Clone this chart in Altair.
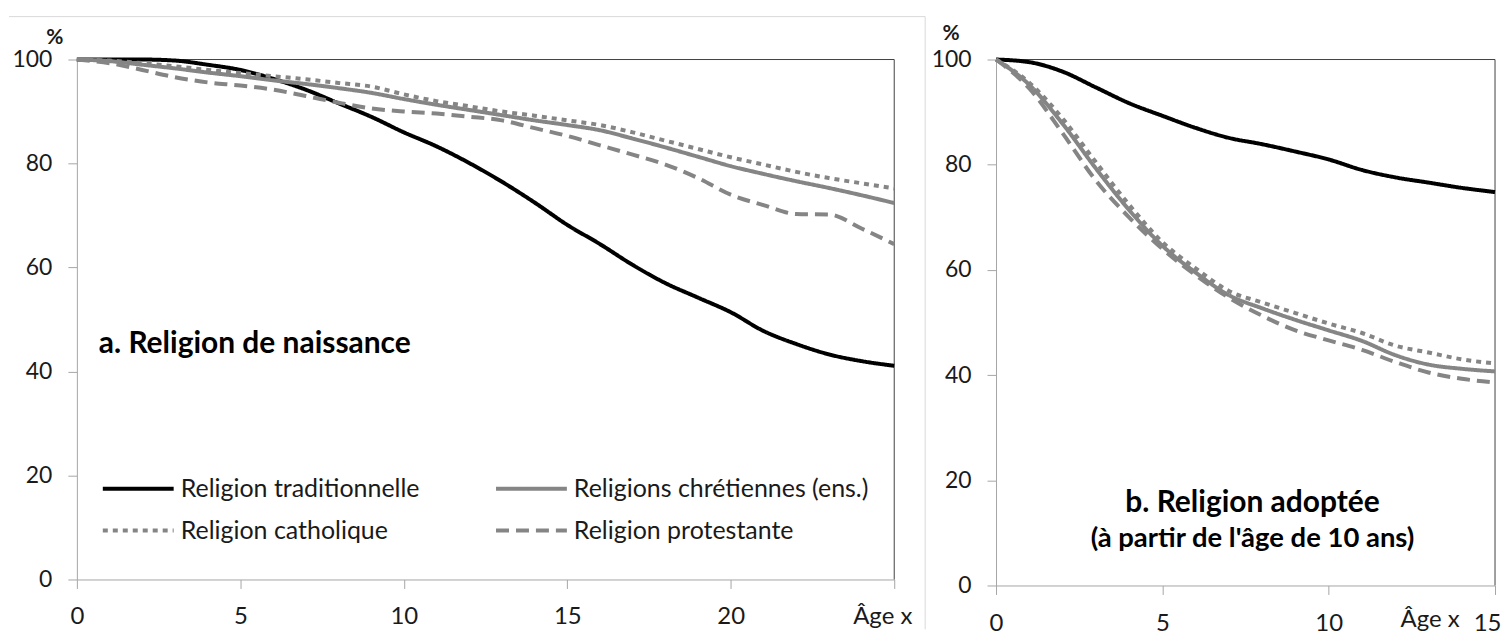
import altair as alt
import pandas as pd

# ---------------- data ----------------
series = ["Religion traditionnelle", "Religions chrétiennes (ens.)",
          "Religion catholique", "Religion protestante"]

# a. Religion de naissance (age 0..25)
ages_a = list(range(26))
trad_a = [100, 100, 100, 99.8, 99.0, 98.0, 96.3, 94.2, 91.6, 89.0, 86.0, 83.3, 80.1,
          76.5, 72.5, 68.2, 64.5, 60.5, 57.0, 54.2, 51.4, 47.8, 45.3, 43.3, 42.0, 41.1]
chret_a = [100, 99.7, 99.0, 98.3, 97.5, 96.8, 96.0, 95.3, 94.5, 93.6, 92.4, 91.3, 90.3,
           89.3, 88.3, 87.4, 86.4, 84.8, 83.1, 81.3, 79.5, 78.0, 76.6, 75.3, 73.9, 72.4]
cath_a = [100, 99.8, 99.3, 98.7, 98.0, 97.4, 96.8, 96.2, 95.5, 94.8, 93.3, 92.0, 91.0,
          90.0, 89.2, 88.3, 87.4, 86.0, 84.4, 82.8, 81.2, 79.8, 78.4, 77.2, 76.2, 75.2]
prot_a = [100, 99.3, 98.0, 96.6, 95.6, 95.0, 94.2, 93.0, 91.7, 90.6, 90.0, 89.6, 89.0,
          88.3, 86.8, 85.3, 83.5, 81.7, 79.8, 77.2, 74.0, 72.0, 70.3, 70.2, 67.5, 64.5]

# b. Religion adoptée (age 0..15)
ages_b = list(range(16))
trad_b = [100, 99.5, 97.7, 94.7, 91.7, 89.3, 87.0, 85.1, 83.9, 82.5, 81.0, 79.0, 77.6,
          76.6, 75.6, 74.8]
chret_b = [100, 95.2, 87.8, 79.3, 71.4, 64.6, 59.5, 55.2, 52.7, 50.5, 48.5, 46.5, 43.8,
           42.0, 41.2, 40.7]
cath_b = [100, 95.6, 88.8, 80.5, 72.4, 65.3, 60.3, 56.0, 53.8, 51.8, 49.8, 48.0, 45.6,
          44.3, 43.0, 42.2]
prot_b = [100, 94.5, 86.0, 77.0, 70.0, 64.0, 59.0, 54.7, 51.3, 48.5, 46.6, 44.8, 42.5,
          40.5, 39.3, 38.6]

y_ticks = [0, 20, 40, 60, 80, 100]
x_ticks_a = [0, 5, 10, 15, 20, 25]
x_ticks_b = [0, 5, 10, 15]


def long_df(ages, cols):
    rows = []
    for name, vals in zip(series, cols):
        for a, v in zip(ages, vals):
            rows.append({"age": a, "pct": v, "serie": name})
    return pd.DataFrame(rows)


df_a = long_df(ages_a, [trad_a, chret_a, cath_a, prot_a])
df_b = long_df(ages_b, [trad_b, chret_b, cath_b, prot_b])

# ---------------- styles ----------------
FONT = "Lato"
TXT = "#1a1a1a"
AXC = "#a6a6a6"
BORDER = "#404040"
BOX = "#d9d9d9"
GRAY = "#858585"

color_scale = alt.Scale(domain=series, range=["#000000", GRAY, GRAY, GRAY])
dash_scale = alt.Scale(domain=series, range=[[1, 0], [1, 0], [5, 5], [13, 7]])

W1, H1 = 819, 521
W2, H2 = 500, 527


def y_enc():
    return alt.Y("pct:Q", scale=alt.Scale(domain=[0, 100], nice=False),
                 axis=alt.Axis(values=y_ticks, title=None, grid=False,
                               domainColor=AXC, tickColor=AXC, tickSize=9,
                               labelFont=FONT, labelFontSize=23, labelColor=TXT,
                               labelPadding=16, labelFlush=False))


def lines(df, xenc):
    return alt.Chart(df).mark_line(strokeWidth=4, interpolate="monotone").encode(
        x=xenc,
        y=y_enc(),
        color=alt.Color("serie:N", scale=color_scale, legend=None),
        strokeDash=alt.StrokeDash("serie:N", scale=dash_scale, legend=None),
        detail="serie:N",
    )


def frame(W, H):
    top = alt.Chart().mark_rule(color=BORDER, strokeWidth=1).encode(
        x=alt.value(0), x2=alt.value(W), y=alt.value(0))
    right = alt.Chart().mark_rule(color=BORDER, strokeWidth=1).encode(
        x=alt.value(W), y=alt.value(0), y2=alt.value(H))
    return top, right


# ---------------- panel a ----------------
x_a = alt.X("age:Q", scale=alt.Scale(domain=[0, 25], nice=False),
            axis=alt.Axis(values=x_ticks_a, title=None, grid=False,
                          domainColor=AXC, tickColor=AXC, tickSize=9,
                          labelFont=FONT, labelFontSize=24, labelColor=TXT,
                          labelPadding=16, labelFlush=False,
                          labelExpr="datum.value == 25 ? 'Âge x' : datum.label",
                          labelOffset={"expr": "datum.value == 25 ? -12 : 0"}))

top_a, right_a = frame(W1, H1)
box_top = alt.Chart().mark_rule(color=BOX, strokeWidth=1).encode(
    x=alt.value(-68), x2=alt.value(W1 + 31), y=alt.value(-43))
box_right = alt.Chart().mark_rule(color=BOX, strokeWidth=1).encode(
    x=alt.value(W1 + 31), y=alt.value(-43), y2=alt.value(H1 + 50))
pct_a = alt.Chart().mark_text(text="%", font=FONT, fontSize=21, fontWeight="bold",
                              color=TXT, align="center", baseline="middle").encode(
    x=alt.value(-22), y=alt.value(-22))
title_a = alt.Chart().mark_text(text="a. Religion de naissance", font=FONT, fontSize=30,
                                fontWeight="bold", color="#000000", align="left",
                                baseline="middle").encode(
    x=alt.value(22), y=alt.value(285))

# legend (built from the series list)
leg_rows = []
for i, name in enumerate(series):
    col, row = i % 2, i // 2
    x0 = 26 + col * 394
    leg_rows.append({"serie": name, "x0": x0, "x1": x0 + 71, "tx": x0 + 78,
                     "ly": 430 + row * 42})
leg_df = pd.DataFrame(leg_rows)
leg_sym = alt.Chart(leg_df).mark_rule(strokeWidth=4).encode(
    x=alt.X("x0:Q", scale=None), x2="x1:Q", y=alt.Y("ly:Q", scale=None),
    color=alt.Color("serie:N", scale=color_scale, legend=None),
    strokeDash=alt.StrokeDash("serie:N", scale=dash_scale, legend=None))
leg_txt = alt.Chart(leg_df).mark_text(font=FONT, fontSize=25, color=TXT, align="left",
                                      baseline="middle").encode(
    x=alt.X("tx:Q", scale=None), y=alt.Y("ly:Q", scale=None), text="serie:N")

panel_a = alt.layer(box_top, box_right, top_a, right_a, lines(df_a, x_a),
                    leg_sym, leg_txt, pct_a, title_a).properties(width=W1, height=H1)

# ---------------- panel b ----------------
x_b = alt.X("age:Q", scale=alt.Scale(domain=[0, 15], nice=False),
            axis=alt.Axis(values=x_ticks_b, title=None, grid=False,
                          domainColor=AXC, tickColor=AXC, tickSize=9,
                          labelFont=FONT, labelFontSize=24, labelColor=TXT,
                          labelPadding=17, labelFlush=False,
                          labelAlign={"expr": "datum.value == 15 ? 'right' : 'center'"},
                          labelOffset={"expr": "datum.value == 15 ? 6 : 0"}))
top_b, right_b = frame(W2, H2)
ghost = alt.Chart().mark_rule(color=BOX, strokeWidth=1, strokeOpacity=0).encode(
    x=alt.value(-40), x2=alt.value(-30), y=alt.value(-43))
pct_b = alt.Chart().mark_text(text="%", font=FONT, fontSize=21, fontWeight="bold",
                              color=TXT, align="center", baseline="middle").encode(
    x=alt.value(-45), y=alt.value(-26))
age_b = alt.Chart().mark_text(text="Âge x", font=FONT, fontSize=24, color=TXT,
                              align="center", baseline="middle").encode(
    x=alt.value(435), y=alt.value(H2 + 35))
title_b = alt.Chart().mark_text(text="b. Religion adoptée", font=FONT, fontSize=30,
                                fontWeight="bold", color="#000000", align="center",
                                baseline="middle").encode(
    x=alt.value(257), y=alt.value(444))
sub_b = alt.Chart().mark_text(text="(à partir de l'âge de 10 ans)", font=FONT,
                              fontSize=27.5, fontWeight="bold", color="#000000",
                              align="center", baseline="middle").encode(
    x=alt.value(257), y=alt.value(480))

panel_b = alt.layer(ghost, top_b, right_b, lines(df_b, x_b), pct_b, age_b,
                    title_b, sub_b).properties(width=W2, height=H2)

chart = alt.hconcat(panel_a, panel_b, spacing=4).properties(
    padding={"left": 0, "top": 7, "right": 0, "bottom": 0},
    background="white",
).configure_view(stroke=None)

chart.save("out.html", embed_options={"renderer": "svg", "actions": False})
